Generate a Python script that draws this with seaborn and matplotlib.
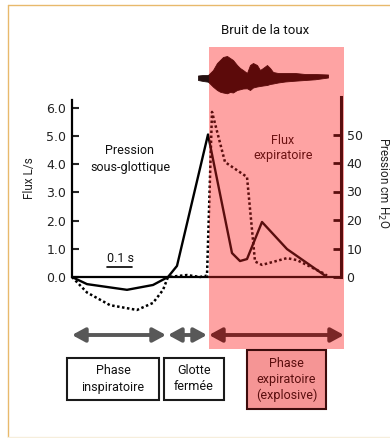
import matplotlib
matplotlib.use("Agg")
import matplotlib.pyplot as plt
import seaborn as sns
from matplotlib.patches import Rectangle
from matplotlib import transforms as mtransforms

# ---------------- data ----------------
# subglottic pressure (cm H2O), solid line, right axis
time_pressure = [0.0, 0.06, 0.22, 0.324, 0.384, 0.42, 0.544, 0.64, 0.672, 0.70, 0.76, 0.86, 1.02]
pressure_cmH2O = [0, -2.5, -4.5, -2.8, 0, 3.9, 50, 8.4, 5.6, 6.3, 19.3, 9.8, 0]

# airflow (L/s), dotted line, left axis
time_flux = [0.0, 0.06, 0.152, 0.26, 0.324, 0.364, 0.384, 0.46, 0.512, 0.54,
             0.56, 0.612, 0.70, 0.732, 0.76, 0.86, 0.90, 1.004, 1.02]
flux_Ls = [0, -0.55, -1.0, -1.17, -0.92, -0.46, 0, 0.07, 0.0, 0.05,
           5.86, 4.08, 3.55, 0.55, 0.43, 0.67, 0.6, 0.14, 0.05]

# cough sound envelope (arbitrary units)
wave_t = [0.504, 0.524, 0.544, 0.564, 0.58, 0.592, 0.604, 0.62, 0.632, 0.644,
          0.66, 0.672, 0.684, 0.70, 0.712, 0.724, 0.74, 0.752, 0.764, 0.78,
          0.792, 0.804, 0.824, 0.852, 0.892, 0.932, 0.972, 1.024]
wave_top = [1.5, 2, 2, 7, 14, 17, 20, 21, 19, 17, 12, 9, 7, 4, 12, 14, 12, 7, 9, 12,
            9, 5, 4, 4, 4, 3, 3, 2.5]
wave_bottom = [3, 4, 4.7, 9.7, 13, 14.7, 15.5, 16.3, 15, 15.5, 13, 12.3, 11.5, 11.3, 13,
               10.5, 9.5, 9, 8.5, 8, 7, 6.5, 5.5, 4.5, 3.7, 3, 2.3, 0.5]

# phases (s)
phase_labels = ["Phase\ninspiratoire", "Glotte\nfermée", "Phase\nexpiratoire\n(explosive)"]
phase_start = [0.0, 0.384, 0.548]
phase_end = [0.376, 0.540, 1.088]

flux_ticks = [0, 1, 2, 3, 4, 5, 6]
flux_ticklabels = ["0.0", "1.0", "2.0", "3.0", "4.0", "5.0", "6.0"]
pressure_ticks = [0, 10, 20, 30, 40, 50]
pressure_ticklabels = ["0", "10", "20", "30", "40", "50"]
scale_bar_s = 0.1

# ---------------- style ----------------
sns.set_style("white")
plt.rcParams['font.family'] = ['DejaVu Sans']
NARROW = ['Roboto', 'DejaVu Sans']
MAROON = '#5a0e0e'
PINK = '#fea3a3'

W, H = 390, 438
PXS = 250.0  # pixels per second
X0 = 72


def px2t(px):
    return (px - X0) / PXS


fig = plt.figure(figsize=(W / 100, H / 100), dpi=100)
fig.patch.set_facecolor('white')

# overlay (x in seconds, y in pixels)
ov = fig.add_axes([0, 0, 1, 1])
ov.set_xlim(px2t(0), px2t(W))
ov.set_ylim(H, 0)
ov.axis('off')
ov.set_zorder(0)

# border
ov.plot([px2t(8), px2t(8)], [5, 437], color='#e8b96c', lw=1.0)
ov.plot([px2t(8), px2t(W)], [5, 5], color='#e8b96c', lw=1.0)
ov.plot([px2t(8), px2t(W)], [436.5, 436.5], color='#f6eedc', lw=1.0)

# pink expiratory region
ov.add_patch(Rectangle((phase_start[2], 47), phase_end[2] - phase_start[2], 349 - 47,
                       facecolor=PINK, edgecolor='none', zorder=0))

# cough sound
WC = 77
n_tail = 3
ov.fill_between(wave_t[n_tail - 1:], [WC - a for a in wave_top[n_tail - 1:]],
                [WC + b for b in wave_bottom[n_tail - 1:]], color='#5c0a0a', lw=0.6, zorder=2)
ov.fill_between(wave_t[:n_tail], [WC - a for a in wave_top[:n_tail]],
                [WC + b for b in wave_bottom[:n_tail]], color='#251010', lw=0.6, zorder=2)

# main axes
ax = fig.add_axes([X0 / W, (H - 320) / H, 269 / W, 223 / H])
ax.set_zorder(1)
ax.patch.set_visible(False)
ax.set_xlim(0, px2t(341))
ax.set_ylim(-43 / 28.17, 180 / 28.17)
ax2 = ax.twinx()
ax2.set_ylim(-43 / 2.85, 180 / 2.85)
ax2.patch.set_visible(False)

split = phase_start[2]
blend = mtransforms.blended_transform_factory(ax.transData, ax.transAxes)


def two_colour(axis, x, y, **kw):
    for col, (a, b) in (('black', (-1, split)), (MAROON, (split, 5))):
        sns.lineplot(x=x, y=y, ax=axis, color=col, sort=False, estimator=None, **kw)
        ln = axis.lines[-1]
        clip = Rectangle((a, -1), b - a, 3, transform=blend)
        ln.set_clip_path(clip)


two_colour(ax, time_flux, flux_Ls, lw=1.8, linestyle=(0, (1, 1)))
two_colour(ax2, time_pressure, pressure_cmH2O, lw=1.7)

# baseline
xfrac = split / px2t(341)
ax.axhline(0, xmin=0, xmax=xfrac, color='black', lw=1.6)
ax.axhline(0, xmin=xfrac, xmax=1, color=MAROON, lw=1.6)

for s in ['top', 'bottom', 'right']:
    ax.spines[s].set_visible(False)
ax.spines['left'].set_bounds(0, 177 / 28.17)
ax.spines['left'].set_linewidth(1.6)
ax.spines['left'].set_color('black')
for s in ['top', 'bottom', 'left']:
    ax2.spines[s].set_visible(False)
ax2.spines['right'].set_bounds(0, 180 / 2.85)
ax2.spines['right'].set_linewidth(2.2)
ax2.spines['right'].set_color(MAROON)

ax.set_xticks([])
ax.set_yticks(flux_ticks)
ax.set_yticklabels(flux_ticklabels)
ax.tick_params(axis='y', direction='in', length=5, width=1.5, pad=4, labelsize=9,
               labelcolor='#222222')
ax2.set_yticks(pressure_ticks)
ax2.set_yticklabels(pressure_ticklabels)
ax2.tick_params(axis='y', direction='in', length=6, width=2, color=MAROON, pad=4,
                labelsize=9, labelcolor='#222222')
ax.set_ylabel('')
ax2.set_ylabel('')

# axis titles
ov.text(px2t(30), 178, "Flux L/s", rotation=90, ha='center', va='center',
        fontsize=8.5, family=NARROW, color='#222222')
ov.text(px2t(383), 183, "Pression cm H$_2$O", rotation=-90, ha='center', va='center',
        fontsize=8.5, family=NARROW, color='#222222')

# annotations
ov.text(px2t(265), 31, "Bruit de la toux", ha='center', va='center', fontsize=9.5,
        family=NARROW, color='#111111')
ov.text(px2t(130), 159, "Pression\nsous-glottique", ha='center', va='center', fontsize=9,
        family=NARROW, color='#111111', linespacing=1.3)
ov.text(px2t(283), 148, "Flux\nexpiratoire", ha='center', va='center', fontsize=9,
        family=NARROW, color='#6b1212', linespacing=1.3)
ov.text(px2t(107), 258, "0.1 s", ha='left', va='center', fontsize=9, family=NARROW,
        color='#111111')
ov.plot([px2t(107), px2t(107) + scale_bar_s], [267, 267], color='black', lw=1.2)

# phase arrows
arrow_cols = ['#585858', '#585858', '#7a2626']
for i in range(3):
    ov.annotate('', xy=(phase_end[i], 335), xytext=(phase_start[i], 335),
                arrowprops=dict(arrowstyle='<|-|>,head_length=0.7,head_width=0.38',
                                color=arrow_cols[i], lw=2.8, shrinkA=0, shrinkB=0,
                                mutation_scale=11), zorder=3)

# phase boxes (pixel layout)
boxes = [(67, 358, 92, 42), (164, 358, 60, 42), (247, 350, 79, 59)]
box_face = ['white', 'white', '#f59595']
box_edge = ['#1a1a1a', '#1a1a1a', '#3d0c0c']
txt_col = ['#111111', '#111111', '#5a0e0e']
for i, (bx, by, bw, bh) in enumerate(boxes):
    ov.add_patch(Rectangle((px2t(bx), by), bw / PXS, bh, facecolor=box_face[i],
                           edgecolor=box_edge[i], lw=1.5, zorder=3))
    ov.text(px2t(bx + bw / 2), by + bh / 2, phase_labels[i], ha='center', va='center',
            fontsize=9, family=NARROW, color=txt_col[i], linespacing=1.3, zorder=4)

fig.savefig('out.png', dpi=100)
